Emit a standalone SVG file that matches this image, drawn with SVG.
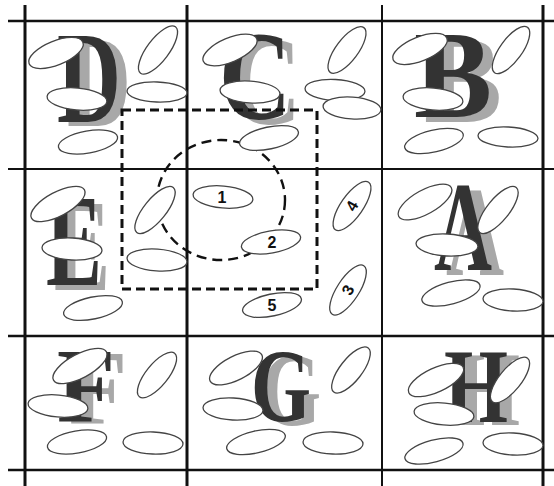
<svg xmlns="http://www.w3.org/2000/svg" width="554" height="486" viewBox="0 0 554 486">
<style>
.g{stroke:#111;fill:none}
.e{fill:#fff;stroke:#444;stroke-width:1.3}
.dk{fill:#333;font-family:"Liberation Serif",serif;font-weight:bold}
.sh{fill:#a8a8a8;font-family:"Liberation Serif",serif;font-weight:bold}
.n{font-family:"Liberation Sans",Arial,sans-serif;font-size:16px;font-weight:bold;fill:#111;text-anchor:middle;dominant-baseline:central}
.d{fill:none;stroke:#111;stroke-width:3;stroke-dasharray:9 5}
</style>
<rect width="554" height="486" fill="#fff"/>
<g id="grid" class="g">
<line x1="25" y1="5" x2="25" y2="486" stroke-width="3"/>
<line x1="187" y1="5" x2="187" y2="486" stroke-width="3"/>
<line x1="382" y1="5" x2="382" y2="486" stroke-width="2"/>
<line x1="543" y1="5" x2="543" y2="486" stroke-width="3"/>
<line x1="8" y1="21" x2="554" y2="21" stroke-width="2.5"/>
<line x1="8" y1="169" x2="554" y2="169" stroke-width="2"/>
<line x1="8" y1="336" x2="554" y2="336" stroke-width="2.5"/>
<line x1="8" y1="470" x2="554" y2="470" stroke-width="2.5"/>
</g>
<g id="letters">
<text class="sh" x="67" y="126" font-size="132" textLength="64" lengthAdjust="spacingAndGlyphs">D</text>
<text class="dk" x="57" y="122" font-size="132" textLength="64" lengthAdjust="spacingAndGlyphs">D</text>
<text class="sh" x="229" y="124" font-size="128" textLength="72" lengthAdjust="spacingAndGlyphs">C</text>
<text class="dk" x="219" y="119" font-size="128" textLength="72" lengthAdjust="spacingAndGlyphs">C</text>
<text class="sh" x="424" y="122" font-size="124" textLength="78" lengthAdjust="spacingAndGlyphs">B</text>
<text class="dk" x="414" y="117" font-size="124" textLength="78" lengthAdjust="spacingAndGlyphs">B</text>
<text class="sh" x="54" y="290" font-size="131" textLength="56" lengthAdjust="spacingAndGlyphs">E</text>
<text class="dk" x="46" y="285" font-size="131" textLength="56" lengthAdjust="spacingAndGlyphs">E</text>
<text class="sh" x="446" y="275" font-size="128" textLength="58" lengthAdjust="spacingAndGlyphs">A</text>
<text class="dk" x="434" y="270" font-size="128" textLength="58" lengthAdjust="spacingAndGlyphs">A</text>
<text class="sh" x="69" y="424" font-size="106" textLength="58" lengthAdjust="spacingAndGlyphs">F</text>
<text class="dk" x="57" y="422" font-size="106" textLength="58" lengthAdjust="spacingAndGlyphs">F</text>
<text class="sh" x="261" y="425" font-size="104" textLength="60" lengthAdjust="spacingAndGlyphs">G</text>
<text class="dk" x="251" y="421" font-size="104" textLength="60" lengthAdjust="spacingAndGlyphs">G</text>
<text class="sh" x="456" y="425" font-size="106" textLength="64" lengthAdjust="spacingAndGlyphs">H</text>
<text class="dk" x="444" y="422" font-size="106" textLength="64" lengthAdjust="spacingAndGlyphs">H</text>
</g>
<g id="region">
<rect class="d" x="122" y="110" width="195" height="179"/>
<ellipse cx="221" cy="200" rx="64" ry="60" fill="none" stroke="#111" stroke-width="2.4" stroke-dasharray="10 6"/>
</g>
<g id="cellD">
<ellipse class="e" transform="translate(56,53) rotate(-22)" rx="29" ry="12"/>
<ellipse class="e" transform="translate(158,50) rotate(-53)" rx="29" ry="11"/>
<ellipse class="e" transform="translate(77,99) rotate(5)" rx="30" ry="11"/>
<ellipse class="e" transform="translate(157,92) rotate(2)" rx="30" ry="10"/>
<ellipse class="e" transform="translate(88,142) rotate(-10)" rx="30" ry="11"/>
</g>
<g id="cellC">
<ellipse class="e" transform="translate(230,50) rotate(-23)" rx="29" ry="12"/>
<ellipse class="e" transform="translate(347,50) rotate(-53)" rx="28" ry="11"/>
<ellipse class="e" transform="translate(250,92) rotate(4)" rx="30" ry="11"/>
<ellipse class="e" transform="translate(335,90) rotate(3)" rx="30" ry="10.5"/>
<ellipse class="e" transform="translate(352,108) rotate(4)" rx="29" ry="11"/>
<ellipse class="e" transform="translate(269,138) rotate(-12)" rx="30" ry="11"/>
</g>
<g id="cellB">
<ellipse class="e" transform="translate(420,49) rotate(-22)" rx="29" ry="12"/>
<ellipse class="e" transform="translate(511,50) rotate(-54)" rx="28" ry="11"/>
<ellipse class="e" transform="translate(433,99) rotate(5)" rx="30" ry="11"/>
<ellipse class="e" transform="translate(434,141) rotate(-13)" rx="30" ry="11"/>
<ellipse class="e" transform="translate(508,137) rotate(3)" rx="30" ry="10"/>
</g>
<g id="cellE">
<ellipse class="e" transform="translate(58,204) rotate(-28)" rx="30" ry="12"/>
<ellipse class="e" transform="translate(72,249) rotate(3)" rx="30" ry="11"/>
<ellipse class="e" transform="translate(93,308) rotate(-12)" rx="30" ry="11"/>
<ellipse class="e" transform="translate(155,210) rotate(-51)" rx="29" ry="11"/>
<ellipse class="e" transform="translate(157,260) rotate(4)" rx="30" ry="11"/>
</g>
<g id="cellMid">
<g id="e1"><ellipse class="e" transform="translate(223,197) rotate(5)" rx="30" ry="11"/><text class="n" x="222" y="197">1</text></g>
<g id="e2"><ellipse class="e" transform="translate(271,242) rotate(-10)" rx="30" ry="11"/><text class="n" x="272" y="242">2</text></g>
<g id="e4"><ellipse class="e" transform="translate(352,206) rotate(-55)" rx="29" ry="11"/><text class="n" transform="translate(352,206) rotate(-60)">4</text></g>
<g id="e3"><ellipse class="e" transform="translate(348,290) rotate(-57)" rx="29" ry="11"/><text class="n" transform="translate(348,290) rotate(-62)">3</text></g>
<g id="e5"><ellipse class="e" transform="translate(272,305) rotate(-12)" rx="30" ry="11"/><text class="n" x="272" y="305">5</text></g>
</g>
<g id="cellA">
<ellipse class="e" transform="translate(425,202) rotate(-29)" rx="30" ry="12"/>
<ellipse class="e" transform="translate(498,210) rotate(-51)" rx="29" ry="11"/>
<ellipse class="e" transform="translate(447,245) rotate(3)" rx="31" ry="11"/>
<ellipse class="e" transform="translate(451,293) rotate(-15)" rx="30" ry="11"/>
<ellipse class="e" transform="translate(513,300) rotate(3)" rx="30" ry="11"/>
</g>
<g id="cellF">
<ellipse class="e" transform="translate(80,366) rotate(-28)" rx="30" ry="12"/>
<ellipse class="e" transform="translate(58,406) rotate(5)" rx="30" ry="11"/>
<ellipse class="e" transform="translate(157,375) rotate(-51)" rx="28" ry="11"/>
<ellipse class="e" transform="translate(77,442) rotate(-10)" rx="30" ry="11"/>
<ellipse class="e" transform="translate(153,443) rotate(2)" rx="30" ry="11"/>
</g>
<g id="cellG">
<ellipse class="e" transform="translate(236,368) rotate(-27)" rx="29" ry="12"/>
<ellipse class="e" transform="translate(233,409) rotate(3)" rx="30" ry="11"/>
<ellipse class="e" transform="translate(351,370) rotate(-52)" rx="28" ry="11"/>
<ellipse class="e" transform="translate(256,442) rotate(-13)" rx="30" ry="11"/>
<ellipse class="e" transform="translate(333,443) rotate(2)" rx="30" ry="11"/>
</g>
<g id="cellH">
<ellipse class="e" transform="translate(436,380) rotate(-25)" rx="30" ry="12"/>
<ellipse class="e" transform="translate(510,380) rotate(-51)" rx="28" ry="11"/>
<ellipse class="e" transform="translate(444,414) rotate(5)" rx="30" ry="11"/>
<ellipse class="e" transform="translate(434,451) rotate(-15)" rx="30" ry="11"/>
<ellipse class="e" transform="translate(513,444) rotate(3)" rx="30" ry="11"/>
</g>
</svg>
